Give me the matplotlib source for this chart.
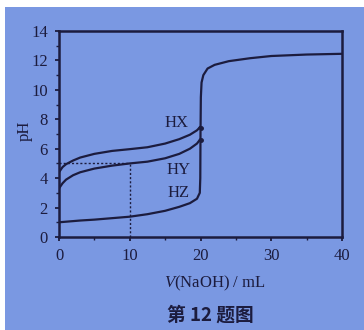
import matplotlib
matplotlib.use("Agg")
import matplotlib.pyplot as plt
from matplotlib.patches import Rectangle

plt.rcParams["mathtext.fontset"] = "custom"
plt.rcParams["mathtext.it"] = "Liberation Serif:italic"
plt.rcParams["mathtext.rm"] = "Liberation Serif"

# ---- data ----
v_pre = [0, 0.5, 1, 2, 3, 5, 7.5, 10, 12.5, 15, 17, 18.5, 19.5, 19.9]
pH_HX = [4.4, 4.75, 4.95, 5.2, 5.4, 5.65, 5.85, 5.97, 6.1, 6.35, 6.65, 6.95, 7.25, 7.45]
pH_HY = [3.3, 3.65, 3.9, 4.2, 4.4, 4.65, 4.85, 5.0, 5.12, 5.35, 5.65, 6.0, 6.35, 6.6]
pH_HZ = [1.0, 1.02, 1.04, 1.08, 1.12, 1.18, 1.28, 1.38, 1.55, 1.78, 2.05, 2.3, 2.6, 3.0]
v_post = [19.97, 20.0, 20.05, 20.15, 20.4, 21, 22, 24, 27, 30, 35, 40]
pH_post = [4.0, 7.0, 9.5, 10.5, 11.0, 11.45, 11.7, 11.95, 12.15, 12.3, 12.4, 12.45]
acid_labels = ["HX", "HY", "HZ"]
label_pos = [(16.6, 7.73), (16.9, 4.55), (16.9, 3.0)]
half_v, half_pH = 10, 5
xticks = [0, 10, 20, 30, 40]
yticks = [0, 2, 4, 6, 8, 10, 12, 14]

bg = "#7a98e2"
ink = "#1c1c3e"
serif = "Liberation Serif"

fig = plt.figure(figsize=(3.64, 3.30), dpi=100)
fig.patch.set_facecolor("white")
fig.patches.append(Rectangle((5 / 364, 0), 1, 1 - 7 / 330, transform=fig.transFigure,
                             facecolor=bg, edgecolor="none", zorder=-10))

ax = fig.add_axes([59 / 364, 93 / 330, 283 / 364, 206 / 330])
ax.set_facecolor("none")

lw = 1.6
ax.plot(v_pre, pH_HX, color=ink, lw=lw)
ax.plot(v_pre, pH_HY, color=ink, lw=lw)
ax.plot(v_pre + v_post, pH_HZ + pH_post, color=ink, lw=lw)
ax.plot([v_pre[-1], 20.0], [pH_HX[-1], 7.4], color=ink, lw=lw)
ax.plot([v_pre[-1], 20.0], [pH_HY[-1], 6.6], color=ink, lw=lw)
ax.plot([20.0, 20.0], [6.6, 7.4], "o", color=ink, ms=2.5)

ax.plot([0, half_v], [half_pH, half_pH], color=ink, lw=1.0, ls=(0, (1.5, 1.5)))
ax.plot([half_v, half_v], [0, half_pH], color=ink, lw=1.0, ls=(0, (1.5, 1.5)))

for t, (x, y) in zip(acid_labels, label_pos):
    ax.text(x, y, t, color=ink, fontsize=12, family=serif,
            ha="center", va="center")

ax.set_xlim(0, 40)
ax.set_ylim(0, 14)
ax.set_xticks(xticks)
ax.set_yticks(yticks)
ax.set_xticks([5, 15, 25, 35], minor=True)
ax.set_yticks([1, 3, 5, 7, 9, 11, 13], minor=True)
ax.tick_params(axis="both", which="major", direction="out", length=3, width=1.3,
               colors=ink, labelsize=12)
ax.tick_params(axis="x", which="major", pad=5)
ax.tick_params(axis="y", which="major", pad=5)
ax.tick_params(axis="both", which="minor", direction="out", length=2, width=1.0,
               colors=ink)
for lab in ax.get_xticklabels() + ax.get_yticklabels():
    lab.set_family(serif)
for s in ax.spines.values():
    s.set_color(ink)
    s.set_linewidth(1.8)

fig.text(25 / 364, 1 - 131 / 330, "pH", rotation=90, color=ink, fontsize=12,
         family=serif, ha="center", va="center")
fig.text(215 / 364, 1 - 283 / 330, r"$\mathit{V}$(NaOH) / mL", color=ink, fontsize=12,
         family=serif, ha="center", va="center")
fig.text(210 / 364, 1 - 315 / 330, "第 12 题图", color=ink, fontsize=13.5,
         family=["Noto Sans CJK SC", "DejaVu Sans"], fontweight="bold",
         ha="center", va="center")

fig.savefig("out.png", dpi=100, facecolor=fig.get_facecolor())
